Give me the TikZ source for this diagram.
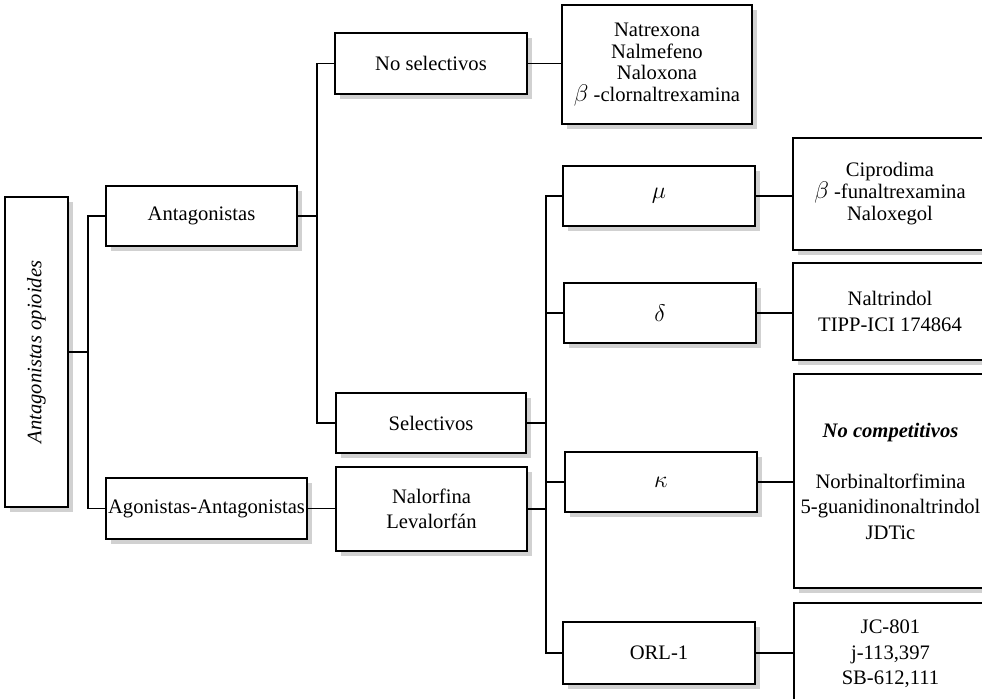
\documentclass[tikz,border=0pt]{standalone}
\usepackage{fontspec}
\setmainfont{Liberation Serif}
\usetikzlibrary{shadows}

\newcommand{\griega}[1]{{\fontsize{12}{12}\selectfont$#1$}}

\tikzset{
  caja/.style={draw, line width=0.9pt, fill=white, align=center, inner sep=1pt,
    drop shadow={shadow xshift=2.5pt, shadow yshift=-2.5pt, fill=black!18, opacity=1},
    font=\fontsize{10.3}{12.75}\selectfont},
  linea/.style={line width=0.6pt}
}

\begin{document}
\begin{tikzpicture}[x=0.5pt, y=-0.5pt]
\useasboundingbox (0,0) rectangle (982,698);

% Root box
\node[caja, minimum width=31.5pt, minimum height=155pt] (raiz) at (36.5,352)
  {\rotatebox{90}{\itshape Antagonistas opioides}};

% Second level
\node[caja, minimum width=95.5pt, minimum height=30pt] (ant) at (201.5,216) {Antagonistas};
\node[caja, minimum width=100.5pt, minimum height=30.5pt] (agon) at (206.5,508.5) {Agonistas-Antagonistas};

% Third level
\node[caja, minimum width=96pt, minimum height=30.5pt] (nosel) at (431,63.5) {No selectivos};
\node[caja, minimum width=95pt, minimum height=30pt] (sel) at (431,423) {Selectivos};
\node[caja, minimum width=95.5pt, minimum height=42pt] (nalor) at (431.5,509) {Nalorfina\\Levalorfán};

% Receptors
\node[caja, minimum width=96pt, minimum height=30pt] (mu) at (659,196) {\griega{\mu}};
\node[caja, minimum width=96pt, minimum height=30pt] (delta) at (660,313) {\griega{\delta}};
\node[caja, minimum width=96pt, minimum height=30pt] (kappa) at (661,482) {\griega{\kappa}};
\node[caja, minimum width=96pt, minimum height=31pt] (orl) at (659,653) {ORL-1};

% Drug lists
\node[caja, minimum width=95pt, minimum height=59.5pt, font=\fontsize{10.3}{10.7}\selectfont]
  (natrex) at (657,64.5) {Natrexona\\Nalmefeno\\Naloxona\\\griega{\beta} -clornaltrexamina};
\node[caja, minimum width=97pt, minimum height=56pt, font=\fontsize{10.3}{11}\selectfont]
  (cipro) at (890,194) {Ciprodima\\\griega{\beta} -funaltrexamina\\Naloxegol};
\node[caja, minimum width=97pt, minimum height=48.5pt] (naltr) at (890,311.5) {Naltrindol\\TIPP-ICI 174864};
\node[caja, minimum width=96.5pt, minimum height=107pt] (kaplist) at (890.5,481)
  {\textbf{\textit{No competitivos}}\\[12.75pt]Norbinaltorfimina\\5-guanidinonaltrindol\\JDTic};
\node[caja, minimum width=96.5pt, minimum height=51pt] (orllist) at (890.5,654) {JC-801\\j-113,397\\SB-612,111};

% Junctions
\coordinate (j1) at (88,352);
\coordinate (j2) at (317,216);
\coordinate (j3) at (546,423);

% Connectors
\draw[linea] (raiz.east) -- (j1);
\draw[linea] (ant.west) -| (j1) |- (agon.west);
\draw[linea] (ant.east) -- (j2);
\draw[linea] (nosel.west) -| (j2) |- (sel.west);
\draw[linea] (agon.east) -- (agon.east -| nalor.west);
\draw[linea] (sel.east) -- (j3);
\draw[linea] (nalor.east) -- (nalor.east -| j3);
\draw[linea] (mu.west) -| (j3) |- (orl.west);
\foreach \r in {delta,kappa} {
    \draw[linea] (\r.west) -- (\r.west -| j3);
}
\draw[linea] (nosel.east) -- (nosel.east -| natrex.west);
\foreach \a/\b in {mu/cipro,delta/naltr,kappa/kaplist,orl/orllist} {
    \draw[linea] (\a.east) -- (\a.east -| \b.west);
}

\end{tikzpicture}
\end{document}
